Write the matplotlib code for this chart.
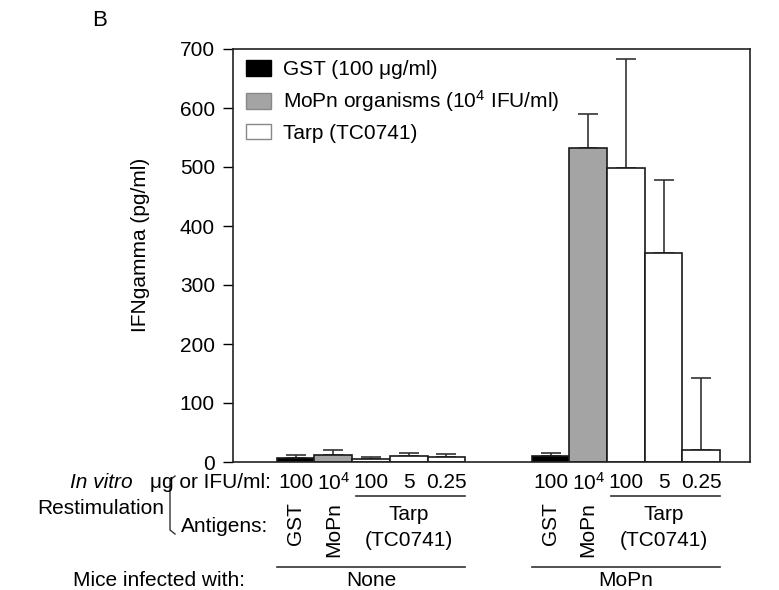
import matplotlib

matplotlib.use("Agg")

import matplotlib.pyplot as plt
import numpy as np

plt.rcParams["font.family"] = ["Liberation Sans", "DejaVu Sans"]
plt.rcParams["mathtext.fontset"] = "custom"
plt.rcParams["mathtext.rm"] = "Liberation Sans"
plt.rcParams["mathtext.it"] = "Liberation Sans:italic"

# IFN-gamma (pg/ml), mean and upper error bar, per restimulation antigen
antigens = ["GST", "MoPn", "Tarp 100", "Tarp 5", "Tarp 0.25"]
dose_labels = ["100", "10$^4$", "100", "5", "0.25"]
none_means = [7, 12, 5, 10, 8]
none_errs = [5, 9, 3, 6, 5]
mopn_means = [10, 533, 499, 355, 20]
mopn_errs = [5, 57, 184, 123, 122]
groups = ["None", "MoPn"]
bar_colors = ["#000000", "#a4a4a4", "#ffffff", "#ffffff", "#ffffff"]
legend_labels = ["GST (100 \u03bcg/ml)", "MoPn organisms (10$^4$ IFU/ml)", "Tarp (TC0741)"]

fig = plt.figure(figsize=(7.79, 5.90), dpi=100)
ax = fig.add_axes([233 / 779, 1 - 462 / 590, 517 / 779, 413 / 590])

starts = [1.16, 7.92]
bar_w = 1.0
for start, means, errs in zip(starts, [none_means, mopn_means], [none_errs, mopn_errs]):
    xs = start + np.arange(len(means)) + 0.5
    ax.bar(xs, means, width=bar_w, color=bar_colors, edgecolor="#1a1a1a",
           linewidth=1.2, zorder=2)
    ax.errorbar(xs, means, yerr=[np.zeros(len(errs)), errs], fmt="none",
                ecolor="#333333", elinewidth=1.2, capsize=7, capthick=1.2, zorder=1)

ax.set_xlim(0, 13.71)
ax.set_ylim(0, 700)
ax.set_xticks([])
ax.set_yticks(np.arange(0, 701, 100))
ax.tick_params(axis="y", direction="out", length=7, width=1, labelsize=15, pad=6)
for sp in ax.spines.values():
    sp.set_linewidth(1.2)
    sp.set_color("#222222")
ax.set_ylabel("IFNgamma (pg/ml)", fontsize=15)
ax.yaxis.set_label_coords(-0.16, 0.525)

handles = [plt.Rectangle((0, 0), 1, 1, facecolor=bar_colors[0], edgecolor="#000000"),
           plt.Rectangle((0, 0), 1, 1, facecolor=bar_colors[1], edgecolor="#888888"),
           plt.Rectangle((0, 0), 1, 1, facecolor=bar_colors[2], edgecolor="#888888")]
ax.legend(handles, legend_labels, loc="upper left", frameon=False, fontsize=15,
          handlelength=1.2, handleheight=0.75, labelspacing=0.45, handletextpad=0.55,
          borderaxespad=0.0, borderpad=0.3, bbox_to_anchor=(0.0135, 0.988))


def ya(ypix):
    # figure pixel row -> axes fraction
    return (462 - ypix) / 413


def xf(xpix):
    return xpix / 779


def yf(ypix):
    return 1 - ypix / 590


tr = ax.get_xaxis_transform()
fs = 15
for start, grp in zip(starts, groups):
    xs = start + np.arange(5) + 0.5
    for x, lab in zip(xs, dose_labels):
        ax.text(x, ya(483), lab, transform=tr, ha="center", va="center",
                fontsize=fs, clip_on=False)
    ax.plot([xs[2] - 0.4, xs[4] + 0.5], [ya(496), ya(496)], transform=tr,
            color="#333333", lw=1.2, clip_on=False)
    ax.text(xs[0], ya(502), "GST", transform=tr, rotation=90, ha="center",
            va="top", fontsize=fs, clip_on=False)
    ax.text(xs[1], ya(502), "MoPn", transform=tr, rotation=90, ha="center",
            va="top", fontsize=fs, clip_on=False)
    ax.text(xs[3], ya(515), "Tarp", transform=tr, ha="center", va="center",
            fontsize=fs, clip_on=False)
    ax.text(xs[3], ya(540), "(TC0741)", transform=tr, ha="center", va="center",
            fontsize=fs, clip_on=False)
    ax.plot([xs[0] - 0.5, xs[4] + 0.5], [ya(567), ya(567)], transform=tr,
            color="#333333", lw=1.2, clip_on=False)
    ax.text(xs[2], ya(580), grp, transform=tr, ha="center", va="center",
            fontsize=fs, clip_on=False)

fig.text(xf(271), yf(483), "\u03bcg or IFU/ml:", ha="right", va="center", fontsize=fs)
fig.text(xf(268), yf(527), "Antigens:", ha="right", va="center", fontsize=fs)
fig.text(xf(101), yf(483), "In vitro", ha="center", va="center", fontsize=fs, style="italic")
fig.text(xf(101), yf(508), "Restimulation", ha="center", va="center", fontsize=fs)
fig.text(xf(245), yf(580), "Mice infected with:", ha="right", va="center", fontsize=fs)
fig.text(xf(100), yf(20), "B", ha="center", va="center", fontsize=16)

# bracket joining the two restimulation rows
bx = [xf(175), xf(170), xf(170), xf(175)]
by = [yf(476), yf(480), yf(530), yf(534)]
fig.add_artist(plt.Line2D(bx, by, color="#333333", lw=1.0))

fig.savefig("out.png", dpi=100)
plt.close(fig)
